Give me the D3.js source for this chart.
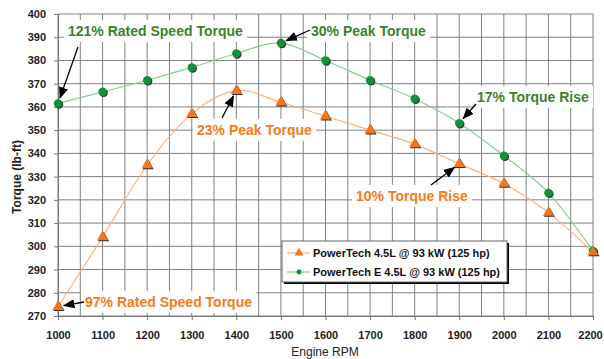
<!DOCTYPE html>
<html>
<head>
<meta charset="utf-8">
<title>Torque curves</title>
<style>
  body { margin: 0; background: #fff; }
  text { font-family: Arial, "Liberation Sans", sans-serif; }
</style>
<script src="https://d3js.org/d3.v7.min.js"></script>
</head>
<body>
<svg id="chart" width="604" height="359"></svg>
<script>
// data
var rpm = [1000, 1100, 1200, 1300, 1400, 1500, 1600, 1700, 1800, 1900, 2000, 2100, 2200];
var torqueStd = [274, 304, 335, 357, 367, 362, 356, 350, 344, 335.5, 327, 314.5, 297.5];
var torqueE = [361.5, 366.5, 371.5, 377, 383, 387.5, 380, 371.5, 363.5, 353, 339, 323, 298];
var yTicks = [270, 280, 290, 300, 310, 320, 330, 340, 350, 360, 370, 380, 390, 400];
var seriesNames = ["PowerTech 4.5L @ 93 kW (125 hp)", "PowerTech E 4.5L @ 93 kW (125 hp)"];

// callouts: text, colour, where the text sits, where the arrow points (data units)
var notes = [
  {t: "121% Rated Speed Torque", c: "#3f7f2f", x: 68, y: 36, a: [78, 47], p: [1000, 361.5]},
  {t: "30% Peak Torque", c: "#3f7f2f", x: 311, y: 36, a: [310, 30], p: [1500, 387.5]},
  {t: "17% Torque Rise", c: "#3f7f2f", x: 477, y: 102, a: [476, 104], p: [1900, 353]},
  {t: "23% Peak Torque", c: "#f47b20", x: 197, y: 135, a: [222, 118], p: [1400, 367]},
  {t: "10% Torque Rise", c: "#f47b20", x: 356, y: 201, a: [431, 185], p: [1900, 335.5]},
  {t: "97% Rated Speed Torque", c: "#f47b20", x: 85, y: 307, a: [84, 302], p: [1000, 274]}
];

var svg = d3.select("#chart");
var x = d3.scaleLinear().domain([1000, 2200]).range([58, 593]);
var y = d3.scaleLinear().domain([270, 400]).range([316, 14]);

svg.append("defs").append("marker")
  .attr("id", "arr").attr("viewBox", "0 0 10 10").attr("refX", 9).attr("refY", 5)
  .attr("markerWidth", 9).attr("markerHeight", 9).attr("orient", "auto")
  .append("path").attr("d", "M0,1 L10,5 L0,9 Z").attr("fill", "#000");

// grid
var grid = svg.append("g");
grid.selectAll(".v").data(d3.range(1000, 2201, 50)).join("line")
  .attr("x1", d => x(d)).attr("x2", d => x(d)).attr("y1", y(400)).attr("y2", y(270))
  .attr("stroke", "#808080").attr("stroke-width", 1);
grid.selectAll(".h").data(yTicks).join("line")
  .attr("x1", x(1000)).attr("x2", x(2200)).attr("y1", d => y(d)).attr("y2", d => y(d))
  .attr("stroke", "#808080").attr("stroke-width", 1);

// axes
var xAxis = svg.append("g").attr("transform", "translate(0," + y(270) + ")")
  .call(d3.axisBottom(x).tickValues(rpm).tickSize(4).tickFormat(d3.format("d")));
var yAxis = svg.append("g").attr("transform", "translate(" + x(1000) + ",0)")
  .call(d3.axisLeft(y).tickValues(yTicks).tickSize(4));
[xAxis, yAxis].forEach(function (g) {
  g.select(".domain").attr("stroke", "#777");
  g.selectAll(".tick line").attr("stroke", "#777");
  g.selectAll("text").attr("font-size", 11).attr("font-weight", "bold")
    .attr("fill", "#222").attr("font-family", "Arial, 'Liberation Sans', sans-serif");
});
xAxis.selectAll("text").attr("dy", "1.45em");
xAxis.selectAll(".tick:last-of-type text").attr("dx", "-3");
yAxis.selectAll("text").attr("dx", "-5");

svg.append("text").attr("x", 325).attr("y", 356).attr("text-anchor", "middle")
  .attr("font-size", 12).attr("fill", "#222").text("Engine RPM");
svg.append("text").attr("transform", "translate(21,177) rotate(-90)").attr("text-anchor", "middle")
  .attr("font-size", 12).attr("font-weight", "bold").attr("fill", "#222").text("Torque (lb-ft)");

// callout labels with white boxes over the grid
var lab = svg.append("g");
notes.forEach(function (n) {
  var t = lab.append("text").attr("x", n.x).attr("y", n.y)
    .attr("font-size", 14).attr("font-weight", "bold").attr("fill", n.c).text(n.t);
  var b = t.node().getBBox();
  lab.insert("rect", "text").attr("x", b.x - 4).attr("y", b.y - 3)
    .attr("width", b.width + 8).attr("height", b.height + 6).attr("fill", "#fff");
});

// lines
var line = d3.line().x(d => x(d[0])).y(d => y(d[1])).curve(d3.curveCardinal.tension(0));
svg.append("path").datum(d3.zip(rpm, torqueE)).attr("d", line)
  .attr("fill", "none").attr("stroke", "#86cf8a").attr("stroke-width", 1.2);
svg.append("path").datum(d3.zip(rpm, torqueStd)).attr("d", line)
  .attr("fill", "none").attr("stroke", "#f9b27c").attr("stroke-width", 1.2);

var tri = d3.symbol().type(d3.symbolTriangle).size(54);
function drawMarks(data, shape, fill) {
  var g = svg.append("g");
  g.selectAll(".s").data(data).join("path")
    .attr("d", shape).attr("fill", "#333")
    .attr("transform", d => "translate(" + (x(d[0]) + 1) + "," + (y(d[1]) + 1) + ")");
  g.selectAll(".m").data(data).join("path")
    .attr("d", shape).attr("fill", fill)
    .attr("transform", d => "translate(" + x(d[0]) + "," + y(d[1]) + ")");
}
drawMarks(d3.zip(rpm, torqueE), d3.symbol().type(d3.symbolCircle).size(56)(), "#12903e");
drawMarks(d3.zip(rpm, torqueStd), tri(), "#f37721");

// arrows
notes.forEach(function (n) {
  var px = x(n.p[0]), py = y(n.p[1]);
  var dx = px - n.a[0], dy = py - n.a[1], len = Math.sqrt(dx * dx + dy * dy);
  svg.append("line").attr("x1", n.a[0]).attr("y1", n.a[1])
    .attr("x2", px - dx / len * 6).attr("y2", py - dy / len * 6)
    .attr("stroke", "#000").attr("stroke-width", 1.3).attr("marker-end", "url(#arr)");
});

// legend
var lg = svg.append("g").attr("transform", "translate(282,241)");
lg.append("rect").attr("x", 2).attr("y", 2).attr("width", 225).attr("height", 41).attr("fill", "#000");
lg.append("rect").attr("width", 225).attr("height", 41).attr("fill", "#fff").attr("stroke", "#666");
var legColors = [["#f9b27c", "#f37721"], ["#86cf8a", "#12903e"]];
var legShapes = [tri(), d3.symbol().type(d3.symbolCircle).size(30)()];
seriesNames.forEach(function (s, i) {
  var yy = 12 + i * 19;
  lg.append("line").attr("x1", 5).attr("x2", 28).attr("y1", yy).attr("y2", yy)
    .attr("stroke", legColors[i][0]).attr("stroke-width", 1.2);
  lg.append("path").attr("d", legShapes[i]).attr("fill", legColors[i][1])
    .attr("transform", "translate(17," + yy + ") scale(0.8)");
  lg.append("text").attr("x", 31).attr("y", yy + 4).attr("font-size", 11).attr("font-weight", "bold")
    .attr("fill", "#111").text(s);
});
</script>
</body>
</html>
